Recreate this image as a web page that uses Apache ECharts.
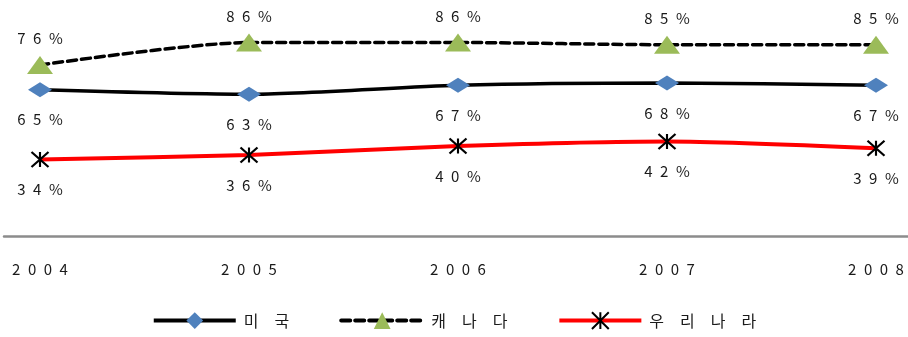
<!DOCTYPE html>
<html>
<head>
<meta charset="utf-8">
<script src="https://cdn.jsdelivr.net/npm/echarts@6/dist/echarts.min.js"></script>
<style>
  html, body { margin: 0; padding: 0; background: #fff; }
  #chart { width: 908px; height: 337px; }
</style>
</head>
<body>
<div id="chart"></div>
<script>
// Years on the category axis
const years = ['2004', '2005', '2006', '2007', '2008'];

// Share (%) per country
const usa = [65, 63, 67, 68, 67];
const canada = [76, 86, 86, 85, 85];
const korea = [34, 36, 40, 42, 39];

const seriesNames = ['미 국', '캐 나 다', '우 리 나 라'];

// Spread characters apart with a given gap character
const spreadWith = (s, gap) => String(s).split('').join(gap);
const EN = '\u2002', EM = '\u2003';

const FONT = "'Noto Sans CJK KR', 'Noto Sans', sans-serif";
const TOP = 11, BOTTOM = 101;

const labelText = { fontSize: 15, color: '#1a1a1a', fontFamily: FONT };
const pct = p => spreadWith(p.value + '%', EN);

// Excel-style "star" marker: an X with a vertical stroke
const starPath = 'path://M0,0L10,10M10,0L0,10M5,0L5,10';

const chart = echarts.init(document.getElementById('chart'), null, { renderer: 'canvas' });

chart.setOption({
  animation: false,
  backgroundColor: '#ffffff',
  grid: [
    { left: 40, right: 32, top: TOP, bottom: BOTTOM },
    // full-width strip carrying the horizontal base line
    { left: 4, right: 0, top: TOP, bottom: BOTTOM }
  ],
  xAxis: [
    {
      type: 'category',
      gridIndex: 0,
      data: years,
      boundaryGap: false,
      axisLine: { show: false },
      axisTick: { show: false },
      axisLabel: {
        margin: 26,
        fontSize: 15,
        color: '#1a1a1a',
        fontFamily: FONT,
        formatter: v => spreadWith(v, EN)
      },
      splitLine: { show: false }
    },
    {
      type: 'value',
      gridIndex: 1,
      min: 0,
      max: 1,
      axisLine: { show: true, lineStyle: { color: '#8c8c8c', width: 2.5 } },
      axisTick: { show: false },
      axisLabel: { show: false },
      splitLine: { show: false }
    }
  ],
  yAxis: [
    { type: 'value', gridIndex: 0, min: 0, max: 100, show: false },
    { type: 'value', gridIndex: 1, min: 0, max: 100, show: false }
  ],
  legend: {
    bottom: 2,
    left: 'center',
    itemWidth: 82,
    itemHeight: 21,
    itemGap: 50,
    data: seriesNames,
    lineStyle: { width: 4 },
    formatter: name => name.split(' ').join(EM),
    textStyle: { fontSize: 16, color: '#1a1a1a', fontFamily: FONT, padding: [0, 0, 0, 3] }
  },
  series: [
    {
      name: seriesNames[0],
      type: 'line',
      data: usa,
      smooth: 0.25,
      symbol: 'diamond',
      symbolSize: [24, 15],
      itemStyle: { color: '#4F81BD' },
      lineStyle: { color: '#000000', width: 3.5 },
      label: { show: true, position: 'bottom', distance: 15, ...labelText, formatter: pct },
      z: 3
    },
    {
      name: seriesNames[1],
      type: 'line',
      data: canada,
      smooth: 0.25,
      symbol: 'triangle',
      symbolSize: [26, 18],
      itemStyle: { color: '#9BBB59' },
      lineStyle: { color: '#000000', width: 3.5, type: [9, 5], cap: 'round' },
      label: { show: true, position: 'top', distance: 10, ...labelText, formatter: pct },
      z: 3
    },
    {
      name: seriesNames[2],
      type: 'line',
      data: korea,
      smooth: 0.25,
      symbol: starPath,
      symbolSize: [17, 15],
      itemStyle: { color: '#000000', borderColor: '#000000', borderWidth: 2 },
      lineStyle: { color: '#FF0000', width: 4 },
      label: { show: true, position: 'bottom', distance: 14, ...labelText, formatter: pct },
      z: 3
    },
    {
      // empty series anchoring the base-line grid
      type: 'line',
      xAxisIndex: 1,
      yAxisIndex: 1,
      data: [],
      silent: true
    }
  ]
});
</script>
</body>
</html>
